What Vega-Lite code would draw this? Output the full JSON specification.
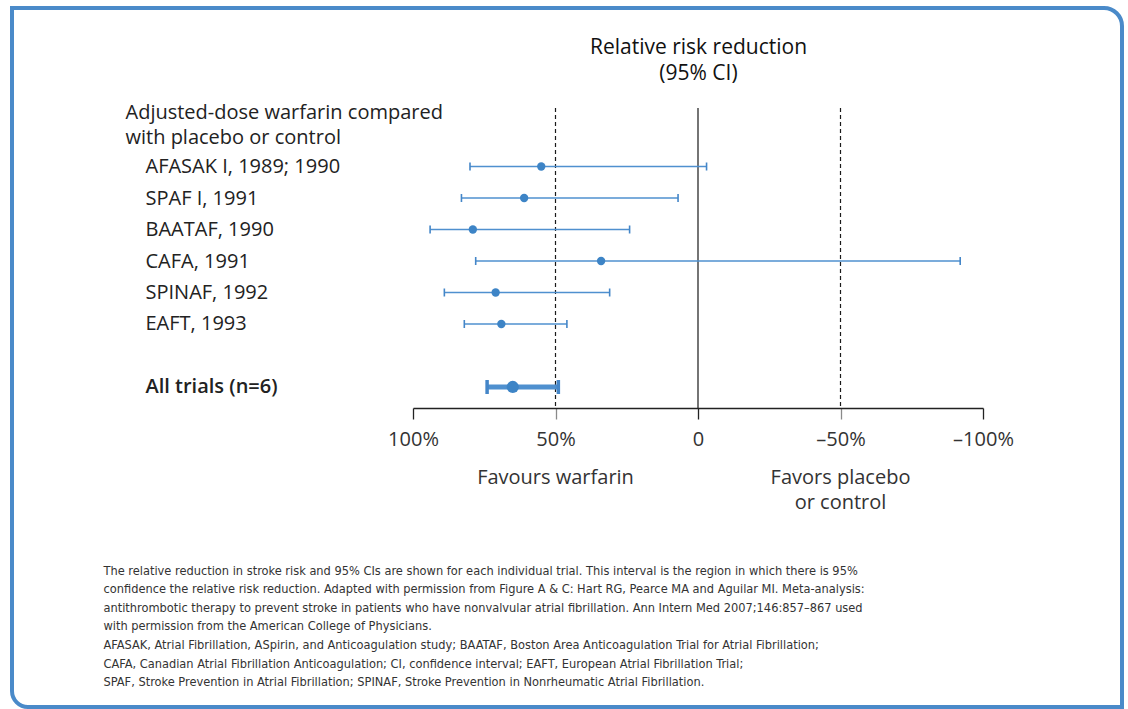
{
  "$schema": "https://vega.github.io/schema/vega-lite/v6.json",
  "width": 1110,
  "height": 699,
  "autosize": "none",
  "padding": {"left": 12, "top": 8, "right": 6, "bottom": 2},
  "background": "#ffffff",
  "config": {
    "view": {"stroke": null},
    "font": "Open Sans",
    "axis": {"labelFont": "Open Sans", "titleFont": "Open Sans"}
  },
  "layer": [
    {
      "data": {"values": [{}]},
      "mark": {
        "type": "rect",
        "fillOpacity": 0,
        "stroke": "#4a8ac9",
        "strokeWidth": 4,
        "cornerRadiusTopRight": 18,
        "cornerRadiusBottomLeft": 16
      },
      "encoding": {
        "x": {"value": 0},
        "x2": {"value": "width"},
        "y": {"value": 0},
        "y2": {"value": "height"}
      }
    },
    {
      "data": {
        "values": [
          {"trial": "AFASAK I, 1989; 1990", "group": "trial", "est": 55, "ci_high": 80, "ci_low": -3},
          {"trial": "SPAF I, 1991", "group": "trial", "est": 61, "ci_high": 83, "ci_low": 7},
          {"trial": "BAATAF, 1990", "group": "trial", "est": 79, "ci_high": 94, "ci_low": 24},
          {"trial": "CAFA, 1991", "group": "trial", "est": 34, "ci_high": 78, "ci_low": -92},
          {"trial": "SPINAF, 1992", "group": "trial", "est": 71, "ci_high": 89, "ci_low": 31},
          {"trial": "EAFT, 1993", "group": "trial", "est": 69, "ci_high": 82, "ci_low": 46},
          {"trial": "All trials (n=6)", "group": "pooled", "est": 65, "ci_high": 74, "ci_low": 49}
        ]
      },
      "encoding": {
        "y": {
          "field": "trial",
          "type": "nominal",
          "scale": {
            "type": "point",
            "domain": [
              "Adjusted-dose warfarin compared with placebo or control",
              "AFASAK I, 1989; 1990",
              "SPAF I, 1991",
              "BAATAF, 1990",
              "CAFA, 1991",
              "SPINAF, 1992",
              "EAFT, 1993",
              " ",
              "All trials (n=6)"
            ],
            "range": [100, 400],
            "padding": 0.762,
            "align": 0.5625
          },
          "axis": {
            "orient": "left",
            "offset": -133,
            "domain": false,
            "ticks": false,
            "tickSize": 0,
            "grid": false,
            "labelAlign": "left",
            "labelBaseline": "middle",
            "labelPadding": {"condition": {"test": "datum.value == 'Adjusted-dose warfarin compared with placebo or control'", "value": 20}, "value": 0},
            "labelOffset": {"condition": {"test": "datum.value == 'Adjusted-dose warfarin compared with placebo or control'", "value": -23}, "value": 0},
            "labelFontWeight": {"condition": {"test": "datum.value == 'All trials (n=6)'", "value": 600}, "value": 400},
            "labelExpr": "datum.value == 'Adjusted-dose warfarin compared with placebo or control' ? ['Adjusted-dose warfarin compared', 'with placebo or control'] : datum.label",
            "labelFontSize": 20,
            "labelColor": "#222222",
            "labelLineHeight": 25,
            "labelLimit": 0,
            "labelOverlap": false,
            "labelBound": false,
            "title": [
              "The relative reduction in stroke risk and 95% CIs are shown for each individual trial. This interval is the region in which there is 95%",
              "confidence the relative risk reduction. Adapted with permission from Figure A & C: Hart RG, Pearce MA and Aguilar MI. Meta-analysis:",
              "antithrombotic therapy to prevent stroke in patients who have nonvalvular atrial fibrillation. Ann Intern Med 2007;146:857–867 used",
              "with permission from the American College of Physicians.",
              "AFASAK, Atrial Fibrillation, ASpirin, and Anticoagulation study; BAATAF, Boston Area Anticoagulation Trial for Atrial Fibrillation;",
              "CAFA, Canadian Atrial Fibrillation Anticoagulation; CI, confidence interval; EAFT, European Atrial Fibrillation Trial;",
              "SPAF, Stroke Prevention in Atrial Fibrillation; SPINAF, Stroke Prevention in Nonrheumatic Atrial Fibrillation."
            ],
            "titleAngle": 0,
            "titleAlign": "left",
            "titleBaseline": "top",
            "titleX": -42,
            "titleY": 556,
            "titleFont": "DejaVu Sans Condensed, sans-serif",
            "titleFontSize": 12.7,
            "titleFontWeight": "normal",
            "titleColor": "#333333",
            "titleLineHeight": 18.6,
            "titleLimit": 0
          }
        },
        "x": {
          "field": "est",
          "type": "quantitative",
          "scale": {"domain": [100, -100], "range": [401, 971], "nice": false, "zero": false},
          "axis": {
            "orient": "bottom",
            "offset": -299,
            "values": [100, 50, 0, -50, -100],
            "domainColor": "#222222",
            "domainWidth": 1.3,
            "tickColor": {"condition": {"test": "abs(datum.value) == 50", "value": "#8a8a8a"}, "value": "#222222"},
            "tickSize": 11,
            "tickWidth": 1.3,
            "grid": false,
            "labelExpr": "datum.value == 0 ? '0' : datum.value > 0 ? datum.value + '%' : '–' + abs(datum.value) + '%'",
            "labelFontSize": 20,
            "labelColor": "#333333",
            "labelPadding": 10,
            "labelFlush": false,
            "labelOverlap": false,
            "labelLimit": 0,
            "labelBound": false,
            "title": ["Relative risk reduction", "(95% CI)"],
            "titleFontSize": 21,
            "titleFontWeight": "normal",
            "titleColor": "#111111",
            "titleLineHeight": 26,
            "titleBaseline": "top",
            "titleY": -372,
            "titleLimit": 0
          }
        }
      },
      "layer": [
        {
          "data": {
            "values": [
              {"rrr": 50, "line": "dashed"},
              {"rrr": 0, "line": "solid"},
              {"rrr": -50, "line": "dashed"}
            ]
          },
          "mark": {"type": "rule", "color": "#1a1a1a", "strokeWidth": 1.2, "yOffset": -27, "y2Offset": 21},
          "encoding": {
            "x": {"field": "rrr", "type": "quantitative"},
            "y": {"datum": "Adjusted-dose warfarin compared with placebo or control", "type": "nominal"},
            "y2": {"datum": "All trials (n=6)"},
            "strokeDash": {
              "field": "line",
              "type": "nominal",
              "scale": {"domain": ["solid", "dashed"], "range": [[1, 0], [4, 3]]},
              "legend": null
            }
          }
        },
        {
          "data": {
            "values": [
              {"rrr": 50, "note": "Favours warfarin"},
              {"rrr": -50, "note": "Favors placebo|or control"}
            ]
          },
          "mark": {
            "type": "text",
            "font": "Open Sans",
            "fontSize": 20,
            "color": "#333333",
            "align": "center",
            "baseline": "middle",
            "lineBreak": "|",
            "lineHeight": 25,
            "yOffset": 91
          },
          "encoding": {
            "x": {"field": "rrr", "type": "quantitative"},
            "y": {"datum": "All trials (n=6)", "type": "nominal"},
            "text": {"field": "note", "type": "nominal"}
          }
        },
        {
          "mark": {"type": "rule", "color": "#4f90cf"},
          "encoding": {
            "x": {"field": "ci_high", "type": "quantitative"},
            "x2": {"field": "ci_low"},
            "strokeWidth": {
              "field": "group",
              "type": "nominal",
              "scale": {"domain": ["trial", "pooled"], "range": [1.6, 5]},
              "legend": null
            }
          }
        },
        {
          "transform": [
            {"filter": "datum.group == 'trial'"},
            {"fold": ["ci_high", "ci_low"], "as": ["end", "ci"]}
          ],
          "mark": {"type": "tick", "color": "#4486c8", "size": 8, "thickness": 1.6, "opacity": 1},
          "encoding": {"x": {"field": "ci", "type": "quantitative"}}
        },
        {
          "transform": [
            {"filter": "datum.group == 'pooled'"},
            {"fold": ["ci_high", "ci_low"], "as": ["end", "ci"]}
          ],
          "mark": {"type": "tick", "color": "#4486c8", "size": 14, "thickness": 3.5, "opacity": 1},
          "encoding": {"x": {"field": "ci", "type": "quantitative"}}
        },
        {
          "mark": {"type": "point", "filled": true, "color": "#3d84c6", "opacity": 1},
          "encoding": {
            "size": {
              "field": "group",
              "type": "nominal",
              "scale": {"domain": ["trial", "pooled"], "range": [70, 150]},
              "legend": null
            }
          }
        }
      ]
    }
  ]
}
